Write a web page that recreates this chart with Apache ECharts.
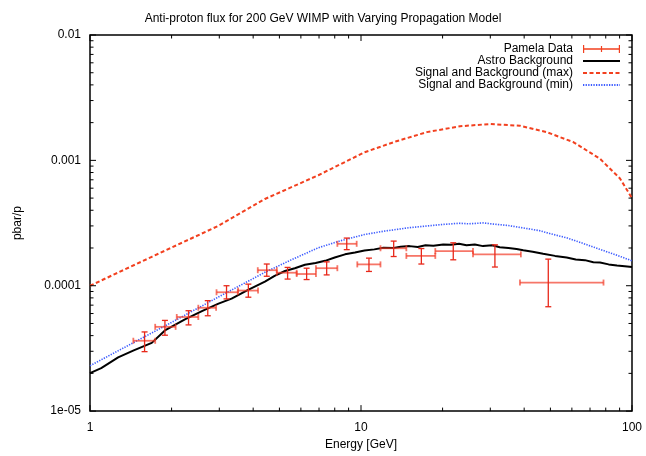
<!DOCTYPE html>
<html>
<head>
<meta charset="utf-8">
<script src="https://cdn.jsdelivr.net/npm/echarts@6/dist/echarts.min.js"></script>
<style>
  html, body { margin: 0; padding: 0; background: #fff; }
  #main { width: 646px; height: 456px; }
</style>
</head>
<body>
<div id="main"></div>
<script>
// energies [GeV] and ratios
const astroE = [1, 1.1, 1.27, 1.45, 1.69, 1.89, 2.24, 2.6, 2.98, 3.33, 3.8, 4.42, 4.8, 5.24, 5.7, 6.21, 6.8, 7.37, 8.0, 8.73, 9.5, 10.3, 11.2, 12.1, 13.2, 14.0, 15.1, 16.2, 17.3, 18.5, 20.1, 21.5, 23.0, 24.5, 26.3, 28.2, 30.5, 32.5, 35, 37.5, 39.7, 43, 47, 52, 57.4, 62, 67, 72, 76.2, 82, 88, 94, 100];
const astroV = [2.01e-5, 2.2e-5, 2.68e-5, 3.05e-5, 3.5e-5, 4.4e-5, 5.4e-5, 6.3e-5, 7.2e-5, 7.9e-5, 9.2e-5, 1.08e-4, 1.2e-4, 1.31e-4, 1.38e-4, 1.47e-4, 1.52e-4, 1.58e-4, 1.68e-4, 1.78e-4, 1.84e-4, 1.91e-4, 1.95e-4, 2.01e-4, 2.0e-4, 2.05e-4, 2.07e-4, 2.04e-4, 2.1e-4, 2.08e-4, 2.13e-4, 2.12e-4, 2.16e-4, 2.1e-4, 2.13e-4, 2.07e-4, 2.1e-4, 2.03e-4, 2.0e-4, 1.96e-4, 1.92e-4, 1.87e-4, 1.8e-4, 1.73e-4, 1.68e-4, 1.62e-4, 1.6e-4, 1.54e-4, 1.53e-4, 1.48e-4, 1.45e-4, 1.43e-4, 1.41e-4];

const maxE = [1, 1.69, 2.98, 4.42, 6.96, 10.3, 13.5, 17.5, 23.2, 29.9, 38.6, 48.4, 60.7, 76.2, 90.3, 100];
const maxV = [1.0e-4, 1.7e-4, 3.01e-4, 4.92e-4, 7.61e-4, 1.16e-3, 1.42e-3, 1.68e-3, 1.87e-3, 1.95e-3, 1.89e-3, 1.68e-3, 1.4e-3, 1.03e-3, 7.17e-4, 4.99e-4];

const minE = [1, 2, 3, 4.42, 5.5, 6.96, 8.5, 10.3, 12.1, 15, 19.6, 23, 25, 28.2, 31, 35, 39.7, 45.6, 50, 57.4, 65, 76.2, 88, 100];
const minV = [2.3e-5, 5.1e-5, 8.2e-5, 1.28e-4, 1.6e-4, 2.01e-4, 2.3e-4, 2.56e-4, 2.72e-4, 2.9e-4, 3.07e-4, 3.15e-4, 3.12e-4, 3.17e-4, 3.1e-4, 3.02e-4, 2.89e-4, 2.75e-4, 2.6e-4, 2.41e-4, 2.2e-4, 1.95e-4, 1.75e-4, 1.58e-4];

// Pamela points: energy, ratio, energy low/high, ratio low/high
const pamE   = [1.59, 1.89, 2.31, 2.72, 3.19, 3.84, 4.49, 5.36, 6.30, 7.47, 8.86, 10.7, 13.2, 16.7, 21.9, 31.2, 49.1];
const pamV   = [3.64e-5, 4.7e-5, 5.63e-5, 6.67e-5, 8.87e-5, 9.15e-5, 1.33e-4, 1.27e-4, 1.24e-4, 1.38e-4, 2.16e-4, 1.48e-4, 1.99e-4, 1.73e-4, 1.89e-4, 1.78e-4, 1.06e-4];
const pamElo = [1.445, 1.74, 2.09, 2.51, 2.93, 3.52, 4.16, 4.89, 5.79, 6.82, 8.18, 9.69, 11.8, 14.7, 18.8, 25.9, 38.6];
const pamEhi = [1.74, 2.07, 2.51, 2.92, 3.51, 4.17, 4.89, 5.79, 6.82, 8.18, 9.64, 11.8, 14.7, 18.8, 25.9, 38.9, 78.5];
const pamVlo = [2.98e-5, 4.03e-5, 4.87e-5, 5.76e-5, 7.85e-5, 8.1e-5, 1.19e-4, 1.13e-4, 1.12e-4, 1.22e-4, 1.94e-4, 1.3e-4, 1.71e-4, 1.49e-4, 1.61e-4, 1.41e-4, 6.8e-5];
const pamVhi = [4.28e-5, 5.29e-5, 6.32e-5, 7.6e-5, 1.0e-4, 1.03e-4, 1.49e-4, 1.4e-4, 1.38e-4, 1.55e-4, 2.4e-4, 1.66e-4, 2.27e-4, 1.98e-4, 2.2e-4, 2.12e-4, 1.63e-4];

// axes
const xMajor = [1, 10, 100];
const xLabels = ['1', '10', '100'];
const yMajor = [1e-5, 1e-4, 1e-3, 1e-2];
const yLabels = ['1e-05', '0.0001', '0.001', '0.01'];
const minorMult = [2, 3, 4, 5, 6, 7, 8, 9];

const FONT = '"Liberation Sans", Arial, Helvetica, sans-serif';
const RED = '#f2401f';
const BLUE = '#3d5cff';

const chart = echarts.init(document.getElementById('main'));

const zip = (a, b) => a.map((v, i) => [v, b[i]]);
const pamData = pamE.map((e, i) => [e, pamV[i], pamElo[i], pamEhi[i], pamVlo[i], pamVhi[i]]);

// tick marks (gnuplot style, inside, on all four sides)
const tickData = [];
xMajor.forEach(v => tickData.push([v, 1e-3, 0, 1]));
yMajor.forEach(v => tickData.push([1, v, 1, 1]));
xMajor.slice(0, -1).forEach(d => minorMult.forEach(m => tickData.push([d * m, 1e-3, 0, 0])));
yMajor.slice(0, -1).forEach(d => minorMult.forEach(m => tickData.push([3, d * m, 1, 0])));

function renderTicks(params, api) {
  const cs = params.coordSys;
  const len = api.value(3) ? 6 : 3.5;
  const st = { stroke: '#000', lineWidth: 1 };
  if (api.value(2) === 0) {
    const px = api.coord([api.value(0), 1e-3])[0];
    return { type: 'group', children: [
      { type: 'line', shape: { x1: px, y1: cs.y + cs.height, x2: px, y2: cs.y + cs.height - len }, style: st },
      { type: 'line', shape: { x1: px, y1: cs.y, x2: px, y2: cs.y + len }, style: st }
    ]};
  }
  const py = api.coord([3, api.value(1)])[1];
  return { type: 'group', children: [
    { type: 'line', shape: { x1: cs.x, y1: py, x2: cs.x + len, y2: py }, style: st },
    { type: 'line', shape: { x1: cs.x + cs.width, y1: py, x2: cs.x + cs.width - len, y2: py }, style: st }
  ]};
}

function renderErr(params, api) {
  const c = api.coord([api.value(0), api.value(1)]);
  const l = api.coord([api.value(2), api.value(1)]);
  const r = api.coord([api.value(3), api.value(1)]);
  const lo = api.coord([api.value(0), api.value(4)]);
  const hi = api.coord([api.value(0), api.value(5)]);
  const cap = 3;
  const hs = { stroke: 'rgba(242,60,40,0.7)', lineWidth: 1.8 };
  const vs = { stroke: '#e8281a', lineWidth: 1.3 };
  return { type: 'group', children: [
    { type: 'line', shape: { x1: l[0], y1: c[1], x2: r[0], y2: c[1] }, style: hs },
    { type: 'line', shape: { x1: l[0], y1: c[1] - cap, x2: l[0], y2: c[1] + cap }, style: hs },
    { type: 'line', shape: { x1: r[0], y1: c[1] - cap, x2: r[0], y2: c[1] + cap }, style: hs },
    { type: 'line', shape: { x1: c[0], y1: lo[1], x2: c[0], y2: hi[1] }, style: vs },
    { type: 'line', shape: { x1: c[0] - cap, y1: lo[1], x2: c[0] + cap, y2: lo[1] }, style: vs },
    { type: 'line', shape: { x1: c[0] - cap, y1: hi[1], x2: c[0] + cap, y2: hi[1] }, style: vs }
  ]};
}

const noSym = { opacity: 0 };

const option = {
  animation: false,
  backgroundColor: '#fff',
  textStyle: { fontFamily: FONT },
  title: {
    text: 'Anti-proton flux for 200 GeV WIMP with Varying Propagation Model',
    left: 'center', top: 8,
    textStyle: { fontFamily: FONT, fontSize: 12, fontWeight: 'normal', color: '#000' }
  },
  legend: {
    orient: 'vertical', right: 20, top: 38, align: 'right',
    itemWidth: 37, itemHeight: 9, itemGap: 0,
    textStyle: { fontFamily: FONT, fontSize: 12, color: '#000', padding: [0, 5, 0, 0] },
    data: [
      { name: 'Pamela Data', icon: 'path://M0,4.2H37V5.8H0Z M0,1H1.2V9H0Z M35.8,1H37V9H35.8Z M17.9,2H19.1V8H17.9Z' },
      { name: 'Astro Background', itemStyle: noSym },
      { name: 'Signal and Background (max)', itemStyle: noSym },
      { name: 'Signal and Background (min)', itemStyle: noSym }
    ]
  },
  grid: {
    left: 90, right: 14, top: 35, bottom: 41,
    show: true, borderColor: '#000', borderWidth: 1.5
  },
  xAxis: {
    type: 'log', logBase: 10, min: 1, max: 100,
    name: 'Energy [GeV]', nameLocation: 'middle', nameGap: 25,
    nameTextStyle: { fontFamily: FONT, fontSize: 12, color: '#000' },
    axisLine: { show: false }, axisTick: { show: false }, splitLine: { show: false },
    axisLabel: {
      fontFamily: FONT, fontSize: 12, color: '#000', margin: 11,
      formatter: v => { const i = xMajor.findIndex(m => Math.abs(m - v) / m < 1e-6); return i >= 0 ? xLabels[i] : ''; }
    }
  },
  yAxis: {
    type: 'log', logBase: 10, min: 1e-5, max: 0.01,
    name: 'pbar/p', nameLocation: 'middle', nameGap: 66, nameRotate: 90,
    nameTextStyle: { fontFamily: FONT, fontSize: 12, color: '#000' },
    axisLine: { show: false }, axisTick: { show: false }, splitLine: { show: false },
    axisLabel: {
      fontFamily: FONT, fontSize: 12, color: '#000', margin: 9,
      formatter: v => { const i = yMajor.findIndex(m => Math.abs(m - v) / m < 1e-6); return i >= 0 ? yLabels[i] : ''; }
    }
  },
  series: [
    {
      name: 'Pamela Data', type: 'custom', renderItem: renderErr,
      itemStyle: { color: RED }, encode: { x: 0, y: 1 },
      data: pamData, z: 5
    },
    {
      name: 'Astro Background', type: 'line', showSymbol: false, symbol: 'none',
      color: '#000', lineStyle: { color: '#000', width: 2 },
      data: zip(astroE, astroV), z: 4
    },
    {
      name: 'Signal and Background (max)', type: 'line', showSymbol: false, symbol: 'none',
      color: RED, lineStyle: { color: RED, width: 2, type: [4, 2.5] },
      data: zip(maxE, maxV), z: 3
    },
    {
      name: 'Signal and Background (min)', type: 'line', showSymbol: false, symbol: 'none',
      color: BLUE, lineStyle: { color: BLUE, width: 1.6, type: [1.3, 1.3] },
      data: zip(minE, minV), z: 3
    },
    {
      name: 'ticks', type: 'custom', renderItem: renderTicks, silent: true,
      clip: false, data: tickData, z: 10
    }
  ]
};

chart.setOption(option);
</script>
</body>
</html>
